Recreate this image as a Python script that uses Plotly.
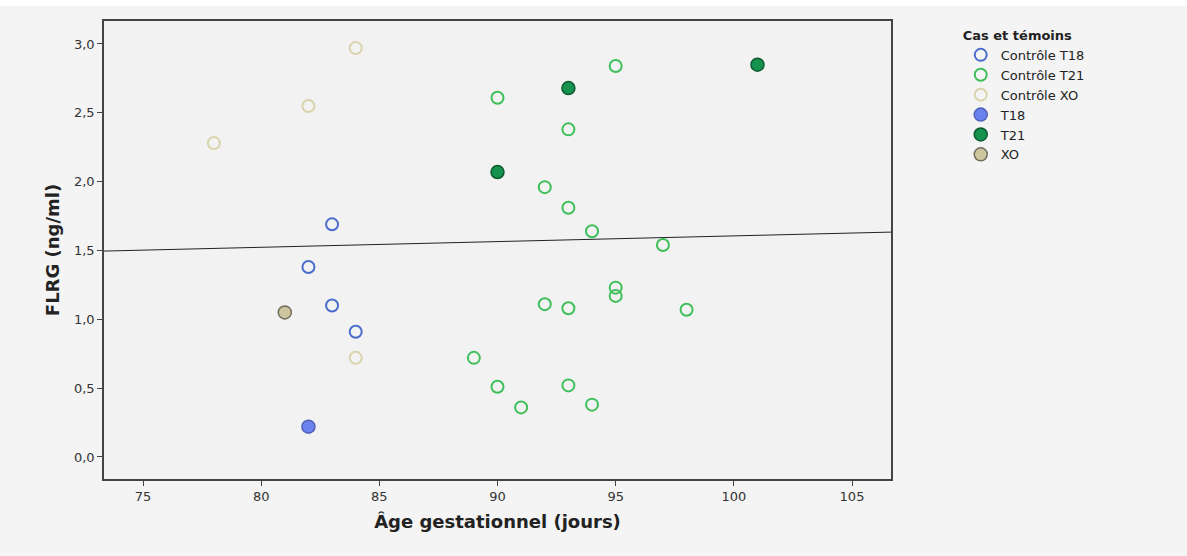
import plotly.graph_objects as go
import numpy as np

# --- data ---
ctrl_t18_x = [83, 82, 83, 84]
ctrl_t18_y = [1.69, 1.38, 1.10, 0.91]

ctrl_t21_x = [95, 90, 93, 92, 93, 94, 97, 95, 95, 92, 93, 98, 89, 90, 93, 91, 94]
ctrl_t21_y = [2.84, 2.61, 2.38, 1.96, 1.81, 1.64, 1.54, 1.23, 1.17, 1.11, 1.08, 1.07, 0.72, 0.51, 0.52, 0.36, 0.38]

ctrl_xo_x = [78, 82, 84, 84]
ctrl_xo_y = [2.28, 2.55, 2.97, 0.72]

t18_x = [82]
t18_y = [0.22]

t21_x = [90, 93, 101]
t21_y = [2.07, 2.68, 2.85]

xo_x = [81]
xo_y = [1.05]

fit_intercept = 1.192
fit_slope = 0.00414

x_range = [73.35, 106.65]
y_range = [-0.16, 3.167]
x_ticks = [75, 80, 85, 90, 95, 100, 105]
y_ticks = [0.0, 0.5, 1.0, 1.5, 2.0, 2.5, 3.0]
y_ticklabels = ["0,0", "0,5", "1,0", "1,5", "2,0", "2,5", "3,0"]

FONT = "DejaVu Sans"
fig = go.Figure()

fit_x = np.array(x_range)
fig.add_trace(go.Scatter(x=fit_x, y=fit_intercept + fit_slope * fit_x, mode="lines",
                         line=dict(color="#222222", width=1), showlegend=False, hoverinfo="skip"))

def open_trace(x, y, name, color):
    return go.Scatter(x=x, y=y, mode="markers", name=name,
                      marker=dict(symbol="circle-open", size=12, color=color,
                                  line=dict(width=2, color=color)))

def filled_trace(x, y, name, fill, edge):
    return go.Scatter(x=x, y=y, mode="markers", name=name,
                      marker=dict(symbol="circle", size=13, color=fill,
                                  line=dict(width=1.5, color=edge)))

fig.add_trace(open_trace(ctrl_t18_x, ctrl_t18_y, "Contrôle T18", "#4a6ccc"))
fig.add_trace(open_trace(ctrl_t21_x, ctrl_t21_y, "Contrôle T21", "#3fbf5a"))
fig.add_trace(open_trace(ctrl_xo_x, ctrl_xo_y, "Contrôle XO", "#d9d3ab"))
fig.add_trace(filled_trace(t18_x, t18_y, "T18", "#6a82ee", "#5060b8"))
fig.add_trace(filled_trace(t21_x, t21_y, "T21", "#14924e", "#0c5c30"))
fig.add_trace(filled_trace(xo_x, xo_y, "XO", "#cdc59e", "#6f6c5c"))

axis_common = dict(showgrid=False, zeroline=False, showline=True, linecolor="#444444",
                   linewidth=1.5, mirror=True, ticks="outside", ticklen=5, tickcolor="#444444",
                   tickfont=dict(family=FONT, size=13, color="#333333"))

fig.update_layout(
    width=1187, height=556,
    margin=dict(l=104, r=296, t=21, b=77),
    paper_bgcolor="#f4f4f4",
    plot_bgcolor="#f2f2f2",
    xaxis=dict(range=x_range, tickvals=x_ticks,
               title=dict(text="<b>Âge gestationnel (jours)</b>", font=dict(family=FONT, size=18, color="#222222"), standoff=12),
               **axis_common),
    yaxis=dict(range=y_range, tickvals=y_ticks, ticktext=y_ticklabels,
               title=dict(text="<b>FLRG (ng/ml)</b>", font=dict(family=FONT, size=18, color="#222222"), standoff=10),
               **axis_common),
    legend=dict(x=1.0886, y=0.9956, xanchor="left", yanchor="top",
                title=dict(text="<b>Cas et témoins</b>", font=dict(family=FONT, size=13, color="#222222")),
                font=dict(family=FONT, size=13, color="#222222"),
                bgcolor="rgba(0,0,0,0)", tracegroupgap=0, itemwidth=30),
    shapes=[dict(type="rect", xref="paper", yref="paper", x0=-0.2, x1=1.4, y0=1.033, y1=1.05,
                 fillcolor="#ffffff", line=dict(width=0), layer="below")],
)

fig.write_html("out.html")
